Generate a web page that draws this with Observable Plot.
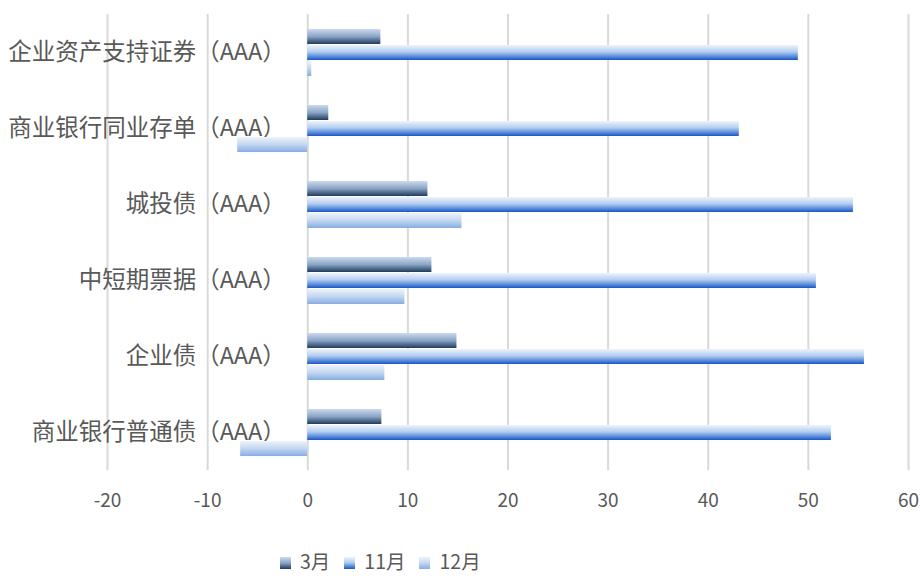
<!DOCTYPE html>
<html><head><meta charset="utf-8">
<script src="https://cdn.jsdelivr.net/npm/d3@7"></script>
<script src="https://cdn.jsdelivr.net/npm/@observablehq/plot@0.6"></script>
<style>
body{margin:0;background:#fff;font-family:"Noto Sans CJK SC",sans-serif;}
#wrap{position:relative;width:920px;height:576px;}
#legend{position:absolute;left:280px;top:547px;display:flex;align-items:center;font-size:19.5px;color:#595959;line-height:28px;height:28px;}
.item{display:flex;align-items:center;margin-right:14px;}
.sw{width:11px;height:12px;margin-right:9px;margin-top:4px;}
</style></head><body><div id="wrap"><div id="chart"></div><div id="legend"></div></div>
<script>
const categories = ["企业资产支持证券（AAA）","商业银行同业存单（AAA）","城投债（AAA）","中短期票据（AAA）","企业债（AAA）","商业银行普通债（AAA）"];
const series = ["3月","11月","12月"];
const mar = [7.3, 2.1, 12.0, 12.4, 14.9, 7.4];
const nov = [49.0, 43.1, 54.5, 50.8, 55.6, 52.3];
const dec = [0.4, -7.0, 15.4, 9.7, 7.7, -6.7];
const xTicks = [-20,-10,0,10,20,30,40,50,60];

const seriesValues = {"3月": mar, "11月": nov, "12月": dec};
const gradIds = {"3月": "g-mar", "11月": "g-nov", "12月": "g-dec"};
const gradStops = {
  "g-mar": [[0,"#cbdaef"],[0.5,"#8aa5c6"],[1,"#1f3a5c"]],
  "g-nov": [[0,"#eef4fc"],[0.45,"#b3cdf0"],[0.8,"#4f86da"],[1,"#1c55bf"]],
  "g-dec": [[0,"#edf3fb"],[0.5,"#c3d7f1"],[1,"#88ade2"]]
};
const data = categories.flatMap((c,i)=>series.map(s=>({category:c, series:s, value:seriesValues[s][i]})));

const plot = Plot.plot({
  width: 920,
  height: 545,
  marginLeft: 107,
  marginRight: 12,
  marginTop: 14,
  marginBottom: 75,
  style: {fontFamily: '"Noto Sans CJK SC", sans-serif', fontSize: "19px", color: "#595959", background: "transparent"},
  x: {domain: [-20, 60], ticks: xTicks, tickSize: 0, tickPadding: 23, label: null, tickFormat: d => String(d)},
  y: {domain: series, paddingInner: 0.09, paddingOuter: 0.85, axis: null},
  fy: {domain: categories, padding: 0, axis: null},
  marks: [
    Plot.ruleX(xTicks, {x: d => d, stroke: "#d9d9d9", strokeWidth: 2}),
    Plot.text(categories, {fy: d => d, x: d => 0, text: d => d, textAnchor: "end", dx: -22, frameAnchor: "middle", fontSize: 23.5, fill: "#595959"}),
    ...series.map(s => Plot.barX(data.filter(d => d.series === s), {x: "value", y: "series", fy: "category", fill: `url(#${gradIds[s]})`}))
  ]
});
const defs = d3.select(plot).insert("defs", ":first-child");
for (const [id, stops] of Object.entries(gradStops)) {
  const lg = defs.append("linearGradient").attr("id", id).attr("x1", 0).attr("y1", 0).attr("x2", 0).attr("y2", 1);
  stops.forEach(([o, c]) => lg.append("stop").attr("offset", o).attr("stop-color", c));
}
document.getElementById("chart").appendChild(plot);

const legend = d3.select("#legend");
series.forEach(s => {
  const st = gradStops[gradIds[s]].map(([o,c]) => `${c} ${o*100}%`).join(",");
  const it = legend.append("div").attr("class","item");
  it.append("div").attr("class","sw").style("background", `linear-gradient(to bottom, ${st})`);
  it.append("span").text(s);
});
</script></body></html>
